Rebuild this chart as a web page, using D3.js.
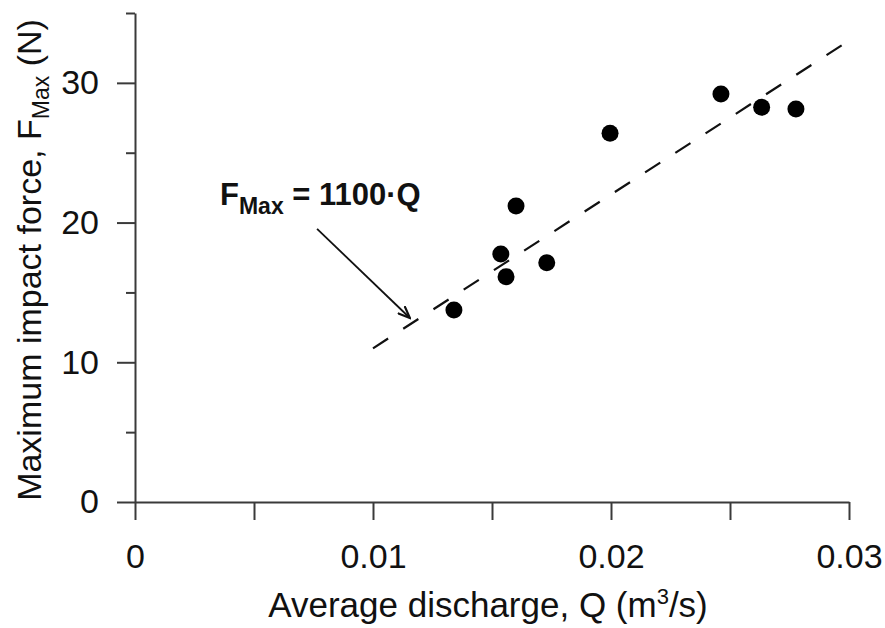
<!DOCTYPE html>
<html>
<head>
<meta charset="utf-8">
<script src="https://cdn.jsdelivr.net/npm/d3@7"></script>
<style>
  body { margin: 0; background: #fff; }
  svg { display: block; font-family: "Liberation Sans", Arial, sans-serif; }
</style>
</head>
<body>
<div id="chart"></div>
<script>
const discharge = [0.0134, 0.01537, 0.01559, 0.01601, 0.0173, 0.01996, 0.02462, 0.02633, 0.02777];
const force     = [13.74, 17.75, 16.13, 21.19, 17.13, 26.39, 29.21, 28.25, 28.13];

// fit line F = 1100 Q, end points
const fitQ = [0.01, 0.0298];
const fitF = [11.0, 32.8];

// annotation arrow (tail, head) in data units
const arrowQ = [0.00765, 0.01155];
const arrowF = [19.55, 13.17];

const xTicks = [0, 0.005, 0.01, 0.015, 0.02, 0.025, 0.03];
const xLabels = {0: "0", 0.01: "0.01", 0.02: "0.02", 0.03: "0.03"};
const yTicks = [0, 5, 10, 15, 20, 25, 30, 35];
const yMajor = [0, 10, 20, 30];

const width = 885, height = 628;
const axisCol = "#3a3a3a";

const svg = d3.select("#chart").append("svg")
    .attr("width", width).attr("height", height);

const x = d3.scaleLinear().domain([0, 0.03]).range([135, 849]);
const y = d3.scaleLinear().domain([0, 35]).range([502, 13]);

///// axes
const gx = svg.append("g")
    .attr("transform", `translate(0,${y(0)})`)
    .call(d3.axisBottom(x).tickValues(xTicks).tickSize(18).tickSizeOuter(0).tickPadding(24)
        .tickFormat(d => xLabels[d] || ""));

const gy = svg.append("g")
    .attr("transform", `translate(${x(0)},0)`)
    .call(d3.axisLeft(y).tickValues(yTicks).tickSize(18).tickSizeOuter(0).tickPadding(18)
        .tickFormat(d => yMajor.includes(d) ? d : ""));

gy.selectAll(".tick line").attr("x2", d => yMajor.includes(d) ? -18 : -9);

[gx, gy].forEach(g => {
    g.select(".domain").attr("stroke", axisCol).attr("stroke-width", 2);
    g.selectAll(".tick line").attr("stroke", axisCol).attr("stroke-width", 2);
    g.selectAll(".tick text").attr("font-size", 34).attr("fill", "#111")
        .attr("font-family", "'Liberation Sans', Arial, sans-serif");
});

///// fit line
svg.append("line")
    .attr("x1", x(fitQ[0])).attr("y1", y(fitF[0]))
    .attr("x2", x(fitQ[1])).attr("y2", y(fitF[1]))
    .attr("stroke", "#111").attr("stroke-width", 2.2)
    .attr("stroke-dasharray", "18,18");

///// points
svg.append("g").selectAll("circle")
    .data(discharge.map((q, i) => [q, force[i]]))
    .enter().append("circle")
    .attr("cx", d => x(d[0]))
    .attr("cy", d => y(d[1]))
    .attr("r", 8.5)
    .attr("fill", "#000");

///// annotation
svg.append("defs").append("marker")
    .attr("id", "arr")
    .attr("viewBox", "0 0 12 10")
    .attr("refX", 11).attr("refY", 5)
    .attr("markerWidth", 14).attr("markerHeight", 11)
    .attr("markerUnits", "userSpaceOnUse")
    .attr("orient", "auto")
    .append("path")
    .attr("d", "M0,0.5 L11,5 L0,9.5")
    .attr("fill", "none").attr("stroke", "#111").attr("stroke-width", 2);

svg.append("line")
    .attr("x1", x(arrowQ[0])).attr("y1", y(arrowF[0]))
    .attr("x2", x(arrowQ[1])).attr("y2", y(arrowF[1]))
    .attr("stroke", "#111").attr("stroke-width", 1.8)
    .attr("marker-end", "url(#arr)");

const eq = svg.append("text")
    .attr("x", 220).attr("y", 205)
    .attr("font-size", 31).attr("font-weight", "bold").attr("fill", "#111");
eq.append("tspan").text("F");
eq.append("tspan").attr("font-size", 23).attr("dy", 9).text("Max");
eq.append("tspan").attr("dy", -9).text(" = 1100·Q");

///// axis titles
const xt = svg.append("text")
    .attr("x", 488).attr("y", 617)
    .attr("text-anchor", "middle")
    .attr("font-size", 35).attr("fill", "#111");
xt.append("tspan").text("Average discharge, Q (m");
xt.append("tspan").attr("font-size", 22).attr("dy", -13).text("3");
xt.append("tspan").attr("dy", 13).text("/s)");

const yt = svg.append("text")
    .attr("transform", "translate(41,260) rotate(-90)")
    .attr("text-anchor", "middle")
    .attr("font-size", 34).attr("fill", "#111");
yt.append("tspan").text("Maximum impact force, F");
yt.append("tspan").attr("font-size", 23).attr("dy", 8).text("Max");
yt.append("tspan").attr("dy", -8).text(" (N)");
</script>
</body>
</html>
